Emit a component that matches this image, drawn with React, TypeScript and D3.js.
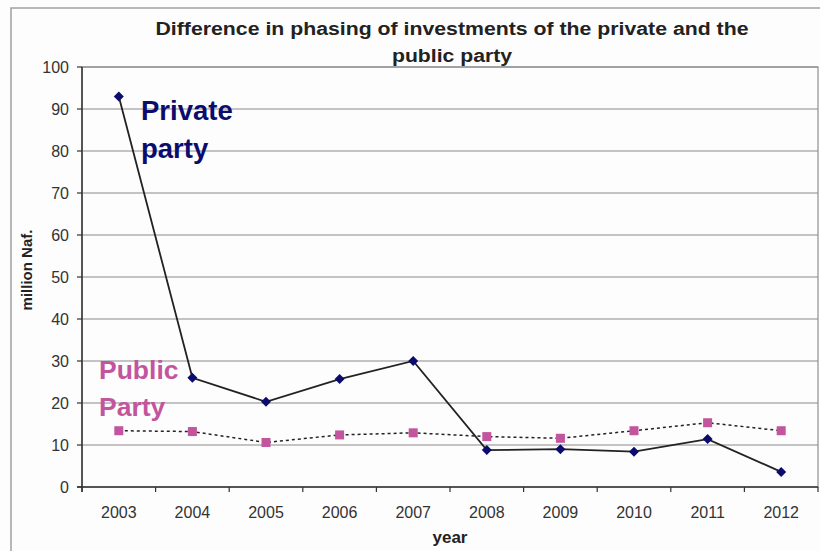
import React from "react";
import * as d3 from "d3";

const years = ["2003","2004","2005","2006","2007","2008","2009","2010","2011","2012"];
const privateParty = [93, 26, 20.3, 25.7, 30, 8.8, 9, 8.4, 11.4, 3.6];
const publicParty = [13.4, 13.2, 10.6, 12.4, 12.9, 12, 11.6, 13.4, 15.3, 13.4];
const yTicks = [0, 10, 20, 30, 40, 50, 60, 70, 80, 90, 100];
const titleLines = ["Difference in phasing of investments of the private and the", "public party"];
const titleWidths = [593, 120];

const W = 820, H = 551;
const left = 82, right = 818, top = 67, bottom = 487;

export default function App() {
  const x = d3.scaleBand<string>().domain(years).range([left, right]);
  const y = d3.scaleLinear().domain([0, 100]).range([bottom, top]);
  const cx = (d: string) => (x(d) as number) + x.bandwidth() / 2;
  const line = d3.line<number>().x((_, i) => cx(years[i])).y((v) => y(v));
  const font = "Liberation Sans, Arial, sans-serif";
  const privColor = "#0c0c6e";
  const pubColor = "#c2559e";
  const diamond = d3.symbol(d3.symbolSquare, 50)() || "";
  return (
    <svg width={W} height={H} style={{ position: "absolute", left: 0, top: 0, background: "#fdfdfd" }} fontFamily={font}>
      <rect x={0} y={0} width={W} height={H} fill="#fdfdfd" />
      <path d={`M11,${H} L11,8 L${W},8`} fill="none" stroke="#a0a0a0" strokeWidth={1.5} />
      {titleLines.map((t, i) => (
        <text key={i} x={452} y={35 + i * 27} textAnchor="middle" fontSize={18} fontWeight="bold" fill="#222"
          textLength={titleWidths[i]} lengthAdjust="spacingAndGlyphs">{t}</text>
      ))}
      {/* plot border */}
      <rect x={left} y={top} width={right - left} height={bottom - top} fill="none" stroke="#909090" strokeWidth={1.2} />
      {/* gridlines */}
      {yTicks.filter((t) => t > 0).map((t) => (
        <line key={t} x1={left} x2={right} y1={y(t)} y2={y(t)} stroke="#8a8a8a" strokeWidth={1.2} />
      ))}
      {/* axes */}
      <line x1={left} x2={left} y1={top} y2={bottom + 5} stroke="#333" strokeWidth={1.5} />
      <line x1={left - 5} x2={right} y1={bottom} y2={bottom} stroke="#333" strokeWidth={1.5} />
      {yTicks.map((t) => (
        <g key={t}>
          <line x1={left - 5} x2={left} y1={y(t)} y2={y(t)} stroke="#333" strokeWidth={1.2} />
          <text x={69} y={y(t) + 5.5} textAnchor="end" fontSize={16} fill="#333">{t}</text>
        </g>
      ))}
      {years.map((yr, i) => (
        <g key={yr}>
          <line x1={(x(yr) as number) + x.bandwidth()} x2={(x(yr) as number) + x.bandwidth()} y1={bottom} y2={bottom + 5} stroke="#333" strokeWidth={1.2} />
          {i === 0 && <line x1={x(yr) as number} x2={x(yr) as number} y1={bottom} y2={bottom + 5} stroke="#333" strokeWidth={1.2} />}
          <text x={cx(yr)} y={518} textAnchor="middle" fontSize={16} fill="#333">{yr}</text>
        </g>
      ))}
      <text x={450} y={543} textAnchor="middle" fontSize={17} fontWeight="bold" fill="#222">year</text>
      <text transform="translate(32,270) rotate(-90)" textAnchor="middle" fontSize={15} fontWeight="bold" fill="#222">million Naf.</text>
      {/* public series */}
      <path d={line(publicParty) || ""} fill="none" stroke="#222" strokeWidth={1.5} strokeDasharray="3,3" />
      {publicParty.map((v, i) => (
        <rect key={i} x={cx(years[i]) - 4.5} y={y(v) - 4.5} width={9} height={9} fill={pubColor} />
      ))}
      {/* private series */}
      <path d={line(privateParty) || ""} fill="none" stroke="#222" strokeWidth={1.8} />
      {privateParty.map((v, i) => (
        <path key={i} d={diamond} transform={`translate(${cx(years[i])},${y(v)}) rotate(45)`} fill={privColor} />
      ))}
      {/* labels */}
      <text x={141} y={120} fontSize={27.5} fontWeight="bold" fill={privColor}>Private</text>
      <text x={141} y={158} fontSize={27.5} fontWeight="bold" fill={privColor}>party</text>
      <text x={99} y={379} fontSize={26.5} fontWeight="bold" fill={pubColor}>Public</text>
      <text x={99} y={416} fontSize={26.5} fontWeight="bold" fill={pubColor}>Party</text>
    </svg>
  );
}
